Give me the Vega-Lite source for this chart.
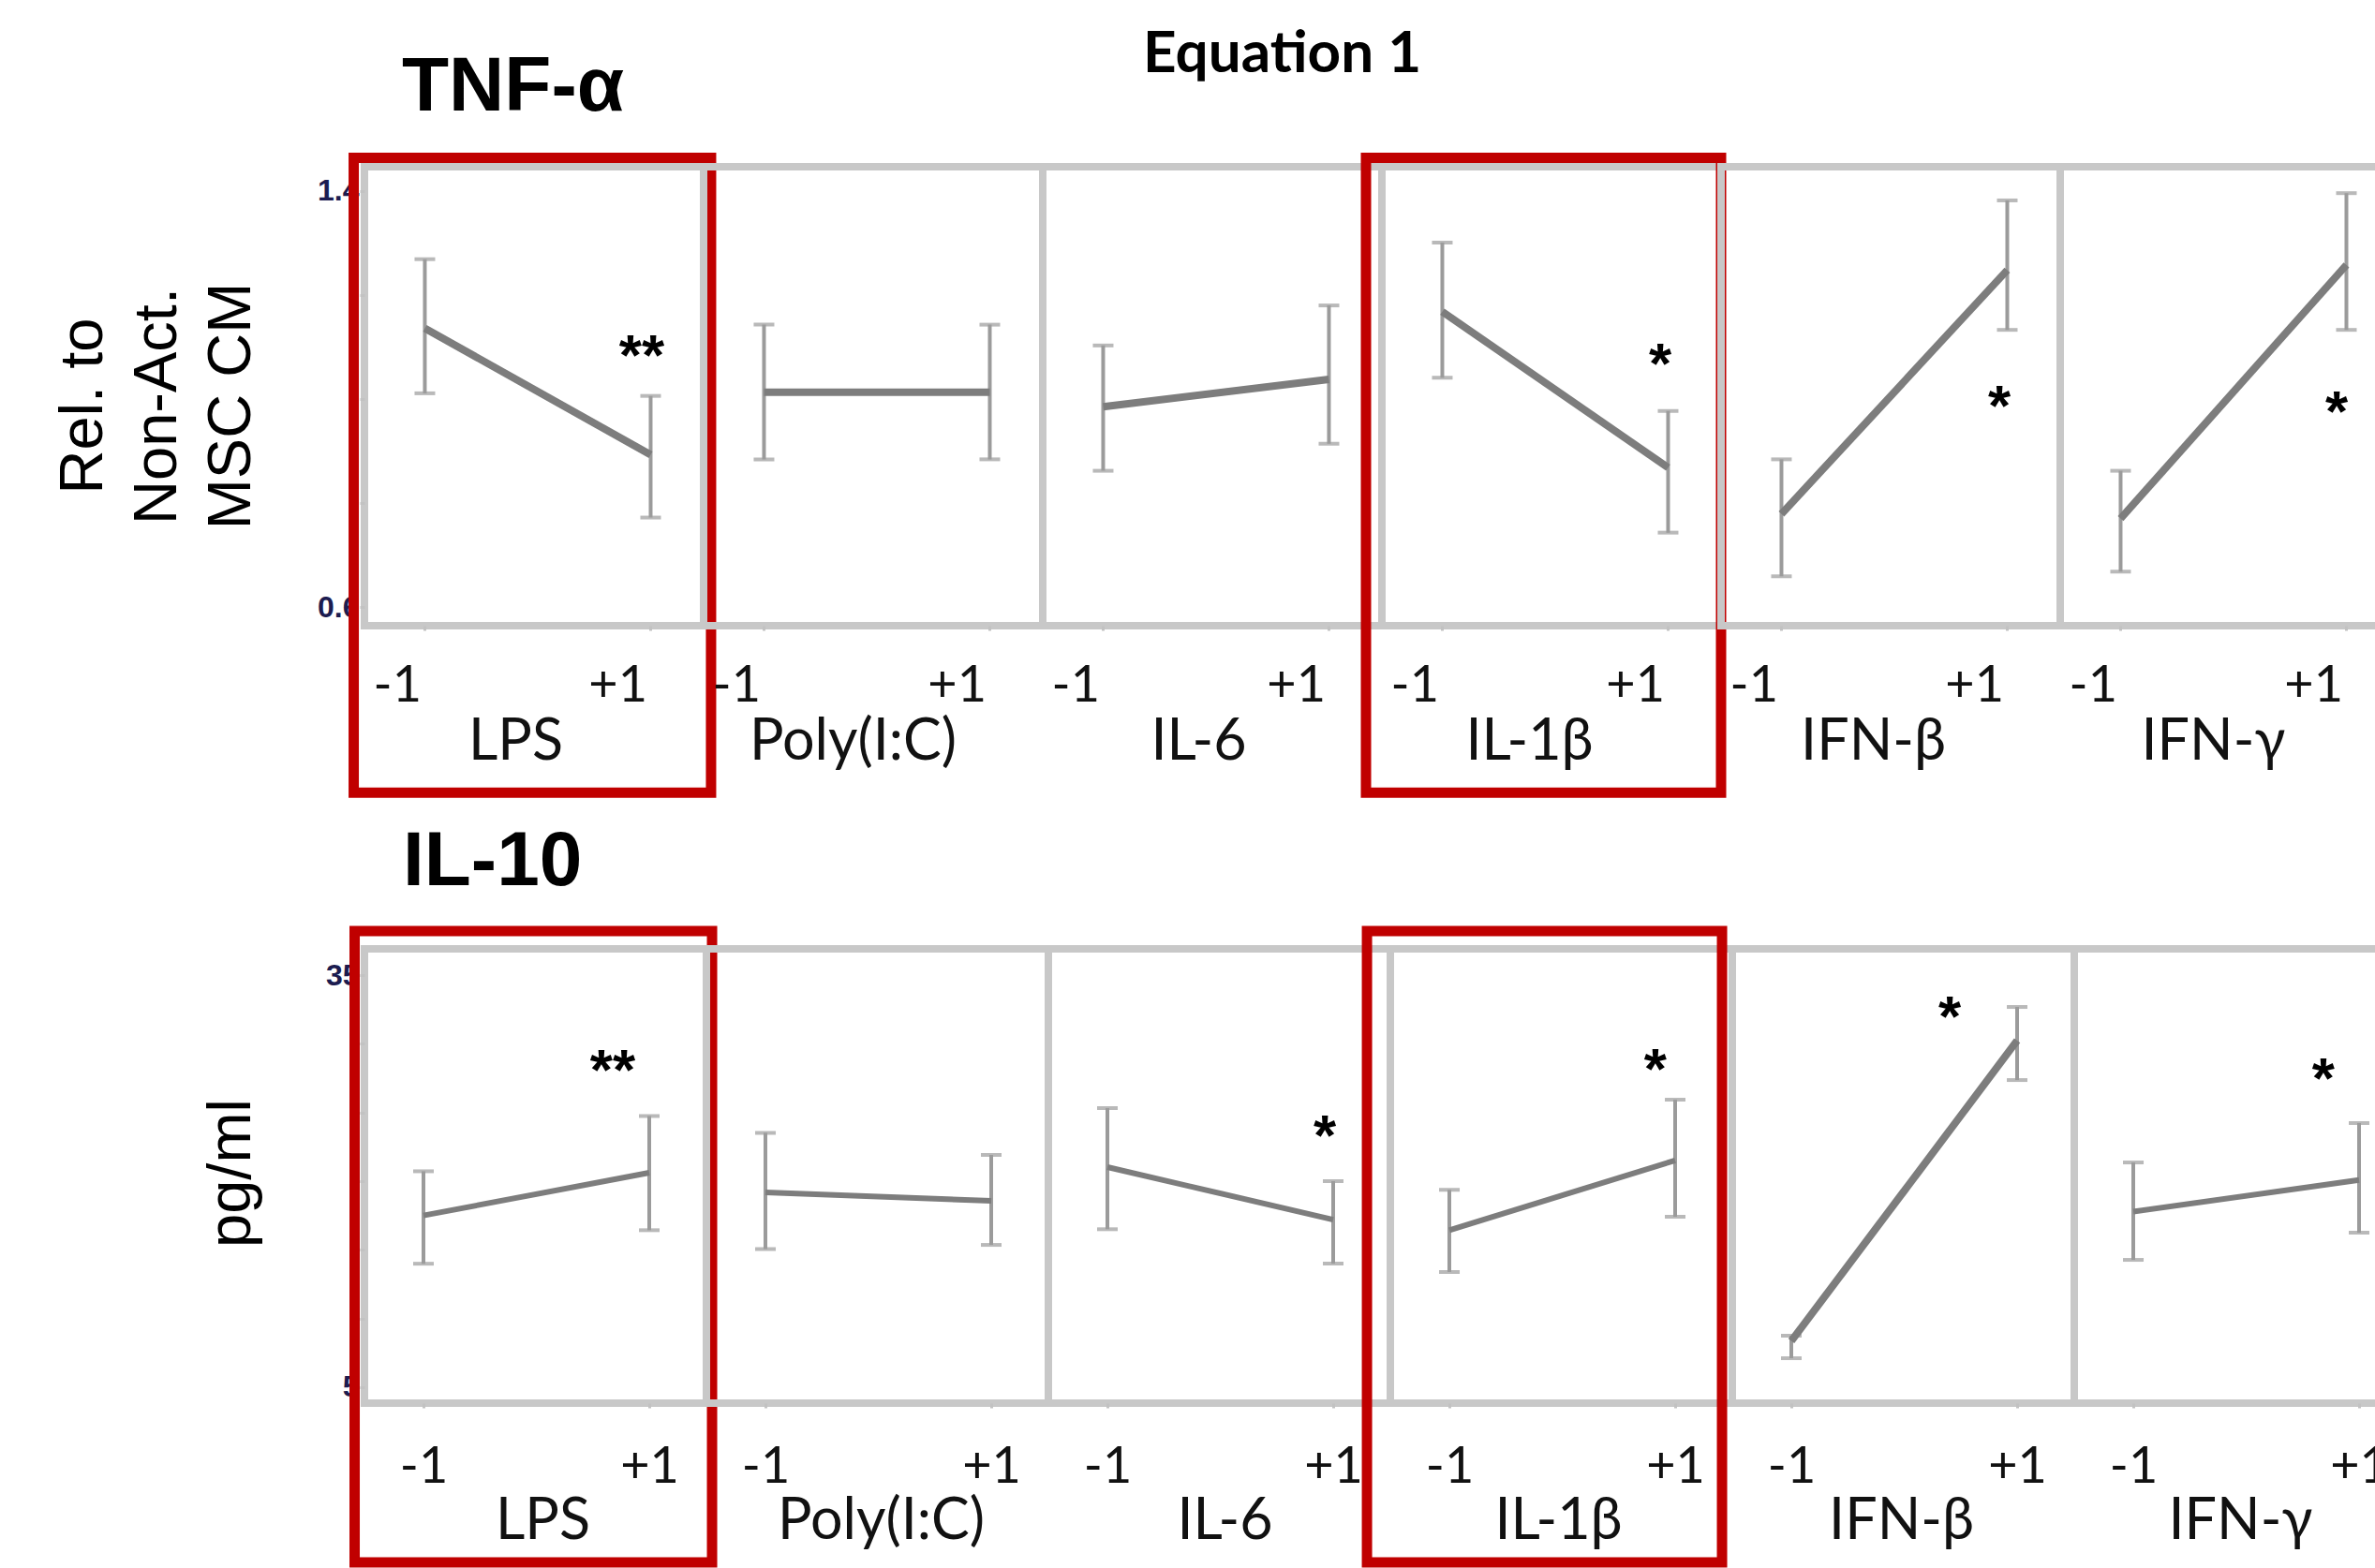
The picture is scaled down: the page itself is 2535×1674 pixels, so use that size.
{
"$schema": "https://vega.github.io/schema/vega-lite/v6.json",
"background": "white",
"padding": {"left": 52, "top": 26, "right": 0, "bottom": 0},
"title": {"text": "Equation 1", "anchor": "start", "frame": "group", "dx": 831, "offset": -42, "baseline": "top", "font": "Lato", "fontSize": 62, "fontWeight": "bold", "color": "black"},
"datasets": {
"tnf": [
{"factor":"LPS","level":-1,"mean":1.136,"lo":1.011,"hi":1.269},
{"factor":"LPS","level":1,"mean":0.893,"lo":0.772,"hi":1.006},
{"factor":"Poly(I:C)","level":-1,"mean":1.013,"lo":0.884,"hi":1.143},
{"factor":"Poly(I:C)","level":1,"mean":1.013,"lo":0.884,"hi":1.143},
{"factor":"IL-6","level":-1,"mean":0.985,"lo":0.862,"hi":1.103},
{"factor":"IL-6","level":1,"mean":1.038,"lo":0.914,"hi":1.180},
{"factor":"IL-1β","level":-1,"mean":1.168,"lo":1.041,"hi":1.301},
{"factor":"IL-1β","level":1,"mean":0.868,"lo":0.743,"hi":0.977},
{"factor":"IFN-β","level":-1,"mean":0.779,"lo":0.659,"hi":0.884},
{"factor":"IFN-β","level":1,"mean":1.248,"lo":1.133,"hi":1.382},
{"factor":"IFN-γ","level":-1,"mean":0.770,"lo":0.668,"hi":0.862},
{"factor":"IFN-γ","level":1,"mean":1.258,"lo":1.133,"hi":1.396}
],
"il10": [
{"factor":"LPS","level":-1,"mean":17.50,"lo":13.99,"hi":20.72},
{"factor":"LPS","level":1,"mean":20.61,"lo":16.43,"hi":24.74},
{"factor":"Poly(I:C)","level":-1,"mean":19.18,"lo":15.06,"hi":23.52},
{"factor":"Poly(I:C)","level":1,"mean":18.57,"lo":15.36,"hi":21.91},
{"factor":"IL-6","level":-1,"mean":21.02,"lo":16.50,"hi":25.32},
{"factor":"IL-6","level":1,"mean":17.20,"lo":14.00,"hi":20.00},
{"factor":"IL-1β","level":-1,"mean":16.43,"lo":13.39,"hi":19.37},
{"factor":"IL-1β","level":1,"mean":21.51,"lo":17.41,"hi":25.93},
{"factor":"IFN-β","level":-1,"mean":8.36,"lo":7.11,"hi":8.75},
{"factor":"IFN-β","level":1,"mean":30.23,"lo":27.36,"hi":32.68},
{"factor":"IFN-γ","level":-1,"mean":17.78,"lo":14.27,"hi":21.36},
{"factor":"IFN-γ","level":1,"mean":20.08,"lo":16.25,"hi":24.23}
],
"tnf_sig": [
{"factor":"LPS","label":"**","sx":0.921,"sy":1.110},
{"factor":"IL-1β","label":"*","sx":0.930,"sy":1.094},
{"factor":"IFN-β","label":"*","sx":0.930,"sy":1.012},
{"factor":"IFN-γ","label":"*","sx":0.913,"sy":1.002}
],
"il10_sig": [
{"factor":"LPS","label":"**","sx":0.676,"sy":29.07},
{"factor":"IL-6","label":"*","sx":0.925,"sy":24.31},
{"factor":"IL-1β","label":"*","sx":0.823,"sy":29.16},
{"factor":"IFN-β","label":"*","sx":0.402,"sy":32.95},
{"factor":"IFN-γ","label":"*","sx":0.683,"sy":28.43}
],
"boxes": [{"factor":"LPS"},{"factor":"IL-1β"}]
},
"config": {
"view": {"stroke": "#c8c8c8", "strokeWidth": 8},
"axisX": {"domain": false, "grid": false, "tickSize": 5, "tickColor": "#c2c2c2", "tickWidth": 3, "labelFont": "Lato", "labelFontSize": 54, "labelColor": "#111111", "labelFlush": false, "labelOverlap": false, "labelBaseline": "alphabetic", "titleFont": "Lato", "titleFontSize": 61, "titleFontWeight": "normal", "titleColor": "#111111", "titleAlign": "center", "titleBaseline": "alphabetic"},
"axisY": {"domain": false, "grid": false, "tickSize": 5, "tickColor": "#c2c2c2", "tickWidth": 3, "labelFont": "Liberation Sans", "labelFontSize": 32, "labelFontWeight": "bold", "labelColor": "#1c1c50", "labelPadding": 1, "labelOverlap": false, "titleFont": "Liberation Sans", "titleFontSize": 65, "titleFontWeight": "normal", "titleColor": "black", "titleAngle": -90, "titleAlign": "center", "titleBaseline": "alphabetic", "titleLineHeight": 79}
},
"spacing": 18,
"vconcat": [
{"bounds": "flush", "spacing": 0, "hconcat": [
{"width": 362, "height": 490,
"title": {"text": "TNF-α", "anchor": "start", "frame": "group", "dx": 40, "offset": 28, "baseline": "top", "font": "Liberation Sans", "fontSize": 82, "fontWeight": "bold", "color": "black"},
"resolve": {"axis": {"x": "independent", "y": "independent"}},
"layer": [
{"data": {"name": "tnf"}, "transform": [{"filter": "datum.factor === 'LPS'"}], "mark": {"type": "errorbar", "ticks": {"size": 22}, "thickness": 4, "color": "#9b9b9b"}, "encoding": {"x": {"field": "level", "type": "quantitative", "scale": {"domain": [-1.535, 1.469], "nice": false, "zero": false}, "axis": null}, "y": {"field": "lo", "type": "quantitative", "scale": {"domain": [0.564, 1.4468], "nice": false, "zero": false}, "axis": null}, "y2": {"field": "hi"}}},
{"data": {"name": "tnf"}, "transform": [{"filter": "datum.factor === 'LPS'"}], "mark": {"type": "line", "color": "#7d7d7d", "strokeWidth": 8}, "encoding": {"x": {"field": "level", "type": "quantitative", "scale": {"domain": [-1.535, 1.469], "nice": false, "zero": false}, "axis": {"values": [-1, 1], "labelExpr": "datum.value > 0 ? '+1' : '-1'", "labelAlign": "right", "labelOffset": -4, "labelPadding": 75, "title": "LPS", "titleX": 161, "titleY": 142}}, "y": {"field": "mean", "type": "quantitative", "scale": {"domain": [0.564, 1.4468], "nice": false, "zero": false}, "axis": {"values": [0.6, 0.8, 1.0, 1.2, 1.4], "format": ".1f", "labelExpr": "datum.value == 0.6 || datum.value == 1.4 ? datum.label : ''", "title": ["Rel. to", "Non-Act.", "MSC CM"], "titleX": -281, "titleY": 255}}}},
{"data": {"name": "tnf_sig"}, "transform": [{"filter": "datum.factor === 'LPS'"}], "mark": {"type": "text", "font": "Liberation Sans", "fontSize": 62, "fontWeight": "bold", "color": "black", "baseline": "middle", "align": "center", "dy": 16}, "encoding": {"x": {"field": "sx", "type": "quantitative", "scale": {"domain": [-1.535, 1.469], "nice": false, "zero": false}, "axis": null}, "y": {"field": "sy", "type": "quantitative", "scale": {"domain": [0.564, 1.4468], "nice": false, "zero": false}, "axis": null}, "text": {"field": "label"}}},
{"data": {"name": "boxes"}, "transform": [{"filter": "datum.factor === 'LPS'"}], "mark": {"type": "rect", "filled": false, "fill": "transparent", "stroke": "#c00000", "strokeWidth": 11, "clip": false}, "encoding": {"x": {"datum": -1.63, "type": "quantitative", "scale": {"domain": [-1.535, 1.469], "nice": false, "zero": false}, "axis": null}, "x2": {"datum": 1.535}, "y": {"datum": 1.464, "type": "quantitative", "scale": {"domain": [0.564, 1.4468], "nice": false, "zero": false}, "axis": null}, "y2": {"datum": 0.243}}}
]},
{"width": 362, "height": 490,
"resolve": {"axis": {"x": "independent", "y": "independent"}},
"layer": [
{"data": {"name": "tnf"}, "transform": [{"filter": "datum.factor === 'Poly(I:C)'"}], "mark": {"type": "errorbar", "ticks": {"size": 22}, "thickness": 4, "color": "#9b9b9b"}, "encoding": {"x": {"field": "level", "type": "quantitative", "scale": {"domain": [-1.535, 1.469], "nice": false, "zero": false}, "axis": null}, "y": {"field": "lo", "type": "quantitative", "scale": {"domain": [0.564, 1.4468], "nice": false, "zero": false}, "axis": null}, "y2": {"field": "hi"}}},
{"data": {"name": "tnf"}, "transform": [{"filter": "datum.factor === 'Poly(I:C)'"}], "mark": {"type": "line", "color": "#7d7d7d", "strokeWidth": 8}, "encoding": {"x": {"field": "level", "type": "quantitative", "scale": {"domain": [-1.535, 1.469], "nice": false, "zero": false}, "axis": {"values": [-1, 1], "labelExpr": "datum.value > 0 ? '+1' : '-1'", "labelAlign": "right", "labelOffset": -4, "labelPadding": 75, "title": "Poly(I:C)", "titleX": 159, "titleY": 142}}, "y": {"field": "mean", "type": "quantitative", "scale": {"domain": [0.564, 1.4468], "nice": false, "zero": false}, "axis": null}}}
]},
{"width": 362, "height": 490,
"resolve": {"axis": {"x": "independent", "y": "independent"}},
"layer": [
{"data": {"name": "tnf"}, "transform": [{"filter": "datum.factor === 'IL-6'"}], "mark": {"type": "errorbar", "ticks": {"size": 22}, "thickness": 4, "color": "#9b9b9b"}, "encoding": {"x": {"field": "level", "type": "quantitative", "scale": {"domain": [-1.535, 1.469], "nice": false, "zero": false}, "axis": null}, "y": {"field": "lo", "type": "quantitative", "scale": {"domain": [0.564, 1.4468], "nice": false, "zero": false}, "axis": null}, "y2": {"field": "hi"}}},
{"data": {"name": "tnf"}, "transform": [{"filter": "datum.factor === 'IL-6'"}], "mark": {"type": "line", "color": "#7d7d7d", "strokeWidth": 8}, "encoding": {"x": {"field": "level", "type": "quantitative", "scale": {"domain": [-1.535, 1.469], "nice": false, "zero": false}, "axis": {"values": [-1, 1], "labelExpr": "datum.value > 0 ? '+1' : '-1'", "labelAlign": "right", "labelOffset": -4, "labelPadding": 75, "title": "IL-6", "titleX": 166, "titleY": 142}}, "y": {"field": "mean", "type": "quantitative", "scale": {"domain": [0.564, 1.4468], "nice": false, "zero": false}, "axis": null}}}
]},
{"width": 362, "height": 490,
"resolve": {"axis": {"x": "independent", "y": "independent"}},
"layer": [
{"data": {"name": "tnf"}, "transform": [{"filter": "datum.factor === 'IL-1β'"}], "mark": {"type": "errorbar", "ticks": {"size": 22}, "thickness": 4, "color": "#9b9b9b"}, "encoding": {"x": {"field": "level", "type": "quantitative", "scale": {"domain": [-1.535, 1.469], "nice": false, "zero": false}, "axis": null}, "y": {"field": "lo", "type": "quantitative", "scale": {"domain": [0.564, 1.4468], "nice": false, "zero": false}, "axis": null}, "y2": {"field": "hi"}}},
{"data": {"name": "tnf"}, "transform": [{"filter": "datum.factor === 'IL-1β'"}], "mark": {"type": "line", "color": "#7d7d7d", "strokeWidth": 8}, "encoding": {"x": {"field": "level", "type": "quantitative", "scale": {"domain": [-1.535, 1.469], "nice": false, "zero": false}, "axis": {"values": [-1, 1], "labelExpr": "datum.value > 0 ? '+1' : '-1'", "labelAlign": "right", "labelOffset": -4, "labelPadding": 75, "title": "IL-1β", "titleX": 157, "titleY": 142}}, "y": {"field": "mean", "type": "quantitative", "scale": {"domain": [0.564, 1.4468], "nice": false, "zero": false}, "axis": null}}},
{"data": {"name": "tnf_sig"}, "transform": [{"filter": "datum.factor === 'IL-1β'"}], "mark": {"type": "text", "font": "Liberation Sans", "fontSize": 62, "fontWeight": "bold", "color": "black", "baseline": "middle", "align": "center", "dy": 16}, "encoding": {"x": {"field": "sx", "type": "quantitative", "scale": {"domain": [-1.535, 1.469], "nice": false, "zero": false}, "axis": null}, "y": {"field": "sy", "type": "quantitative", "scale": {"domain": [0.564, 1.4468], "nice": false, "zero": false}, "axis": null}, "text": {"field": "label"}}},
{"data": {"name": "boxes"}, "transform": [{"filter": "datum.factor === 'IL-1β'"}], "mark": {"type": "rect", "filled": false, "fill": "transparent", "stroke": "#c00000", "strokeWidth": 11, "clip": false}, "encoding": {"x": {"datum": -1.676, "type": "quantitative", "scale": {"domain": [-1.535, 1.469], "nice": false, "zero": false}, "axis": null}, "x2": {"datum": 1.469}, "y": {"datum": 1.464, "type": "quantitative", "scale": {"domain": [0.564, 1.4468], "nice": false, "zero": false}, "axis": null}, "y2": {"datum": 0.243}}}
]},
{"width": 362, "height": 490,
"resolve": {"axis": {"x": "independent", "y": "independent"}},
"layer": [
{"data": {"name": "tnf"}, "transform": [{"filter": "datum.factor === 'IFN-β'"}], "mark": {"type": "errorbar", "ticks": {"size": 22}, "thickness": 4, "color": "#9b9b9b"}, "encoding": {"x": {"field": "level", "type": "quantitative", "scale": {"domain": [-1.535, 1.469], "nice": false, "zero": false}, "axis": null}, "y": {"field": "lo", "type": "quantitative", "scale": {"domain": [0.564, 1.4468], "nice": false, "zero": false}, "axis": null}, "y2": {"field": "hi"}}},
{"data": {"name": "tnf"}, "transform": [{"filter": "datum.factor === 'IFN-β'"}], "mark": {"type": "line", "color": "#7d7d7d", "strokeWidth": 8}, "encoding": {"x": {"field": "level", "type": "quantitative", "scale": {"domain": [-1.535, 1.469], "nice": false, "zero": false}, "axis": {"values": [-1, 1], "labelExpr": "datum.value > 0 ? '+1' : '-1'", "labelAlign": "right", "labelOffset": -4, "labelPadding": 75, "title": "IFN-β", "titleX": 162, "titleY": 142}}, "y": {"field": "mean", "type": "quantitative", "scale": {"domain": [0.564, 1.4468], "nice": false, "zero": false}, "axis": null}}},
{"data": {"name": "tnf_sig"}, "transform": [{"filter": "datum.factor === 'IFN-β'"}], "mark": {"type": "text", "font": "Liberation Sans", "fontSize": 62, "fontWeight": "bold", "color": "black", "baseline": "middle", "align": "center", "dy": 16}, "encoding": {"x": {"field": "sx", "type": "quantitative", "scale": {"domain": [-1.535, 1.469], "nice": false, "zero": false}, "axis": null}, "y": {"field": "sy", "type": "quantitative", "scale": {"domain": [0.564, 1.4468], "nice": false, "zero": false}, "axis": null}, "text": {"field": "label"}}}
]},
{"width": 362, "height": 490,
"resolve": {"axis": {"x": "independent", "y": "independent"}},
"layer": [
{"data": {"name": "tnf"}, "transform": [{"filter": "datum.factor === 'IFN-γ'"}], "mark": {"type": "errorbar", "ticks": {"size": 22}, "thickness": 4, "color": "#9b9b9b"}, "encoding": {"x": {"field": "level", "type": "quantitative", "scale": {"domain": [-1.535, 1.469], "nice": false, "zero": false}, "axis": null}, "y": {"field": "lo", "type": "quantitative", "scale": {"domain": [0.564, 1.4468], "nice": false, "zero": false}, "axis": null}, "y2": {"field": "hi"}}},
{"data": {"name": "tnf"}, "transform": [{"filter": "datum.factor === 'IFN-γ'"}], "mark": {"type": "line", "color": "#7d7d7d", "strokeWidth": 8}, "encoding": {"x": {"field": "level", "type": "quantitative", "scale": {"domain": [-1.535, 1.469], "nice": false, "zero": false}, "axis": {"values": [-1, 1], "labelExpr": "datum.value > 0 ? '+1' : '-1'", "labelAlign": "right", "labelOffset": -4, "labelPadding": 75, "title": "IFN-γ", "titleX": 163, "titleY": 142}}, "y": {"field": "mean", "type": "quantitative", "scale": {"domain": [0.564, 1.4468], "nice": false, "zero": false}, "axis": null}}},
{"data": {"name": "tnf_sig"}, "transform": [{"filter": "datum.factor === 'IFN-γ'"}], "mark": {"type": "text", "font": "Liberation Sans", "fontSize": 62, "fontWeight": "bold", "color": "black", "baseline": "middle", "align": "center", "dy": 16}, "encoding": {"x": {"field": "sx", "type": "quantitative", "scale": {"domain": [-1.535, 1.469], "nice": false, "zero": false}, "axis": null}, "y": {"field": "sy", "type": "quantitative", "scale": {"domain": [0.564, 1.4468], "nice": false, "zero": false}, "axis": null}, "text": {"field": "label"}}}
]}
]},
{"bounds": "flush", "spacing": 0, "hconcat": [
{"width": 365, "height": 485,
"title": {"text": "IL-10", "anchor": "start", "frame": "group", "dx": 41, "offset": 27, "baseline": "top", "font": "Liberation Sans", "fontSize": 82, "fontWeight": "bold", "color": "black"},
"resolve": {"axis": {"x": "independent", "y": "independent"}},
"layer": [
{"data": {"name": "il10"}, "transform": [{"filter": "datum.factor === 'LPS'"}], "mark": {"type": "errorbar", "ticks": {"size": 22}, "thickness": 4, "color": "#9b9b9b"}, "encoding": {"x": {"field": "level", "type": "quantitative", "scale": {"domain": [-1.523, 1.506], "nice": false, "zero": false}, "axis": null}, "y": {"field": "lo", "type": "quantitative", "scale": {"domain": [3.84, 36.91], "nice": false, "zero": false}, "axis": null}, "y2": {"field": "hi"}}},
{"data": {"name": "il10"}, "transform": [{"filter": "datum.factor === 'LPS'"}], "mark": {"type": "line", "color": "#7d7d7d", "strokeWidth": 6}, "encoding": {"x": {"field": "level", "type": "quantitative", "scale": {"domain": [-1.523, 1.506], "nice": false, "zero": false}, "axis": {"values": [-1, 1], "labelExpr": "datum.value > 0 ? '+1' : '-1'", "labelAlign": "center", "labelPadding": 79, "title": "LPS", "titleX": 190, "titleY": 144}}, "y": {"field": "mean", "type": "quantitative", "scale": {"domain": [3.84, 36.91], "nice": false, "zero": false}, "axis": {"values": [5, 10, 15, 20, 25, 30, 35], "format": "d", "labelExpr": "datum.value == 5 || datum.value == 35 ? datum.label : ''", "title": "pg/ml", "titleX": -123, "titleY": 239}}}},
{"data": {"name": "il10_sig"}, "transform": [{"filter": "datum.factor === 'LPS'"}], "mark": {"type": "text", "font": "Liberation Sans", "fontSize": 62, "fontWeight": "bold", "color": "black", "baseline": "middle", "align": "center", "dy": 16}, "encoding": {"x": {"field": "sx", "type": "quantitative", "scale": {"domain": [-1.523, 1.506], "nice": false, "zero": false}, "axis": null}, "y": {"field": "sy", "type": "quantitative", "scale": {"domain": [3.84, 36.91], "nice": false, "zero": false}, "axis": null}, "text": {"field": "label"}}},
{"data": {"name": "boxes"}, "transform": [{"filter": "datum.factor === 'LPS'"}], "mark": {"type": "rect", "filled": false, "fill": "transparent", "stroke": "#c00000", "strokeWidth": 11, "clip": false}, "encoding": {"x": {"datum": -1.61, "type": "quantitative", "scale": {"domain": [-1.523, 1.506], "nice": false, "zero": false}, "axis": null}, "x2": {"datum": 1.556}, "y": {"datum": 38.2, "type": "quantitative", "scale": {"domain": [3.84, 36.91], "nice": false, "zero": false}, "axis": null}, "y2": {"datum": -7.75}}}
]},
{"width": 365, "height": 485,
"resolve": {"axis": {"x": "independent", "y": "independent"}},
"layer": [
{"data": {"name": "il10"}, "transform": [{"filter": "datum.factor === 'Poly(I:C)'"}], "mark": {"type": "errorbar", "ticks": {"size": 22}, "thickness": 4, "color": "#9b9b9b"}, "encoding": {"x": {"field": "level", "type": "quantitative", "scale": {"domain": [-1.523, 1.506], "nice": false, "zero": false}, "axis": null}, "y": {"field": "lo", "type": "quantitative", "scale": {"domain": [3.84, 36.91], "nice": false, "zero": false}, "axis": null}, "y2": {"field": "hi"}}},
{"data": {"name": "il10"}, "transform": [{"filter": "datum.factor === 'Poly(I:C)'"}], "mark": {"type": "line", "color": "#7d7d7d", "strokeWidth": 6}, "encoding": {"x": {"field": "level", "type": "quantitative", "scale": {"domain": [-1.523, 1.506], "nice": false, "zero": false}, "axis": {"values": [-1, 1], "labelExpr": "datum.value > 0 ? '+1' : '-1'", "labelAlign": "center", "labelPadding": 79, "title": "Poly(I:C)", "titleX": 186, "titleY": 144}}, "y": {"field": "mean", "type": "quantitative", "scale": {"domain": [3.84, 36.91], "nice": false, "zero": false}, "axis": null}}}
]},
{"width": 365, "height": 485,
"resolve": {"axis": {"x": "independent", "y": "independent"}},
"layer": [
{"data": {"name": "il10"}, "transform": [{"filter": "datum.factor === 'IL-6'"}], "mark": {"type": "errorbar", "ticks": {"size": 22}, "thickness": 4, "color": "#9b9b9b"}, "encoding": {"x": {"field": "level", "type": "quantitative", "scale": {"domain": [-1.523, 1.506], "nice": false, "zero": false}, "axis": null}, "y": {"field": "lo", "type": "quantitative", "scale": {"domain": [3.84, 36.91], "nice": false, "zero": false}, "axis": null}, "y2": {"field": "hi"}}},
{"data": {"name": "il10"}, "transform": [{"filter": "datum.factor === 'IL-6'"}], "mark": {"type": "line", "color": "#7d7d7d", "strokeWidth": 6}, "encoding": {"x": {"field": "level", "type": "quantitative", "scale": {"domain": [-1.523, 1.506], "nice": false, "zero": false}, "axis": {"values": [-1, 1], "labelExpr": "datum.value > 0 ? '+1' : '-1'", "labelAlign": "center", "labelPadding": 79, "title": "IL-6", "titleX": 188, "titleY": 144}}, "y": {"field": "mean", "type": "quantitative", "scale": {"domain": [3.84, 36.91], "nice": false, "zero": false}, "axis": null}}},
{"data": {"name": "il10_sig"}, "transform": [{"filter": "datum.factor === 'IL-6'"}], "mark": {"type": "text", "font": "Liberation Sans", "fontSize": 62, "fontWeight": "bold", "color": "black", "baseline": "middle", "align": "center", "dy": 16}, "encoding": {"x": {"field": "sx", "type": "quantitative", "scale": {"domain": [-1.523, 1.506], "nice": false, "zero": false}, "axis": null}, "y": {"field": "sy", "type": "quantitative", "scale": {"domain": [3.84, 36.91], "nice": false, "zero": false}, "axis": null}, "text": {"field": "label"}}}
]},
{"width": 365, "height": 485,
"resolve": {"axis": {"x": "independent", "y": "independent"}},
"layer": [
{"data": {"name": "il10"}, "transform": [{"filter": "datum.factor === 'IL-1β'"}], "mark": {"type": "errorbar", "ticks": {"size": 22}, "thickness": 4, "color": "#9b9b9b"}, "encoding": {"x": {"field": "level", "type": "quantitative", "scale": {"domain": [-1.523, 1.506], "nice": false, "zero": false}, "axis": null}, "y": {"field": "lo", "type": "quantitative", "scale": {"domain": [3.84, 36.91], "nice": false, "zero": false}, "axis": null}, "y2": {"field": "hi"}}},
{"data": {"name": "il10"}, "transform": [{"filter": "datum.factor === 'IL-1β'"}], "mark": {"type": "line", "color": "#7d7d7d", "strokeWidth": 6}, "encoding": {"x": {"field": "level", "type": "quantitative", "scale": {"domain": [-1.523, 1.506], "nice": false, "zero": false}, "axis": {"values": [-1, 1], "labelExpr": "datum.value > 0 ? '+1' : '-1'", "labelAlign": "center", "labelPadding": 79, "title": "IL-1β", "titleX": 179, "titleY": 144}}, "y": {"field": "mean", "type": "quantitative", "scale": {"domain": [3.84, 36.91], "nice": false, "zero": false}, "axis": null}}},
{"data": {"name": "il10_sig"}, "transform": [{"filter": "datum.factor === 'IL-1β'"}], "mark": {"type": "text", "font": "Liberation Sans", "fontSize": 62, "fontWeight": "bold", "color": "black", "baseline": "middle", "align": "center", "dy": 16}, "encoding": {"x": {"field": "sx", "type": "quantitative", "scale": {"domain": [-1.523, 1.506], "nice": false, "zero": false}, "axis": null}, "y": {"field": "sy", "type": "quantitative", "scale": {"domain": [3.84, 36.91], "nice": false, "zero": false}, "axis": null}, "text": {"field": "label"}}},
{"data": {"name": "boxes"}, "transform": [{"filter": "datum.factor === 'IL-1β'"}], "mark": {"type": "rect", "filled": false, "fill": "transparent", "stroke": "#c00000", "strokeWidth": 11, "clip": false}, "encoding": {"x": {"datum": -1.73, "type": "quantitative", "scale": {"domain": [-1.523, 1.506], "nice": false, "zero": false}, "axis": null}, "x2": {"datum": 1.415}, "y": {"datum": 38.2, "type": "quantitative", "scale": {"domain": [3.84, 36.91], "nice": false, "zero": false}, "axis": null}, "y2": {"datum": -7.75}}}
]},
{"width": 365, "height": 485,
"resolve": {"axis": {"x": "independent", "y": "independent"}},
"layer": [
{"data": {"name": "il10"}, "transform": [{"filter": "datum.factor === 'IFN-β'"}], "mark": {"type": "errorbar", "ticks": {"size": 22}, "thickness": 4, "color": "#9b9b9b"}, "encoding": {"x": {"field": "level", "type": "quantitative", "scale": {"domain": [-1.523, 1.506], "nice": false, "zero": false}, "axis": null}, "y": {"field": "lo", "type": "quantitative", "scale": {"domain": [3.84, 36.91], "nice": false, "zero": false}, "axis": null}, "y2": {"field": "hi"}}},
{"data": {"name": "il10"}, "transform": [{"filter": "datum.factor === 'IFN-β'"}], "mark": {"type": "line", "color": "#7d7d7d", "strokeWidth": 8}, "encoding": {"x": {"field": "level", "type": "quantitative", "scale": {"domain": [-1.523, 1.506], "nice": false, "zero": false}, "axis": {"values": [-1, 1], "labelExpr": "datum.value > 0 ? '+1' : '-1'", "labelAlign": "center", "labelPadding": 79, "title": "IFN-β", "titleX": 180, "titleY": 144}}, "y": {"field": "mean", "type": "quantitative", "scale": {"domain": [3.84, 36.91], "nice": false, "zero": false}, "axis": null}}},
{"data": {"name": "il10_sig"}, "transform": [{"filter": "datum.factor === 'IFN-β'"}], "mark": {"type": "text", "font": "Liberation Sans", "fontSize": 62, "fontWeight": "bold", "color": "black", "baseline": "middle", "align": "center", "dy": 16}, "encoding": {"x": {"field": "sx", "type": "quantitative", "scale": {"domain": [-1.523, 1.506], "nice": false, "zero": false}, "axis": null}, "y": {"field": "sy", "type": "quantitative", "scale": {"domain": [3.84, 36.91], "nice": false, "zero": false}, "axis": null}, "text": {"field": "label"}}}
]},
{"width": 365, "height": 485,
"resolve": {"axis": {"x": "independent", "y": "independent"}},
"layer": [
{"data": {"name": "il10"}, "transform": [{"filter": "datum.factor === 'IFN-γ'"}], "mark": {"type": "errorbar", "ticks": {"size": 22}, "thickness": 4, "color": "#9b9b9b"}, "encoding": {"x": {"field": "level", "type": "quantitative", "scale": {"domain": [-1.523, 1.506], "nice": false, "zero": false}, "axis": null}, "y": {"field": "lo", "type": "quantitative", "scale": {"domain": [3.84, 36.91], "nice": false, "zero": false}, "axis": null}, "y2": {"field": "hi"}}},
{"data": {"name": "il10"}, "transform": [{"filter": "datum.factor === 'IFN-γ'"}], "mark": {"type": "line", "color": "#7d7d7d", "strokeWidth": 6}, "encoding": {"x": {"field": "level", "type": "quantitative", "scale": {"domain": [-1.523, 1.506], "nice": false, "zero": false}, "axis": {"values": [-1, 1], "labelExpr": "datum.value > 0 ? '+1' : '-1'", "labelAlign": "center", "labelPadding": 79, "title": "IFN-γ", "titleX": 177, "titleY": 144}}, "y": {"field": "mean", "type": "quantitative", "scale": {"domain": [3.84, 36.91], "nice": false, "zero": false}, "axis": null}}},
{"data": {"name": "il10_sig"}, "transform": [{"filter": "datum.factor === 'IFN-γ'"}], "mark": {"type": "text", "font": "Liberation Sans", "fontSize": 62, "fontWeight": "bold", "color": "black", "baseline": "middle", "align": "center", "dy": 16}, "encoding": {"x": {"field": "sx", "type": "quantitative", "scale": {"domain": [-1.523, 1.506], "nice": false, "zero": false}, "axis": null}, "y": {"field": "sy", "type": "quantitative", "scale": {"domain": [3.84, 36.91], "nice": false, "zero": false}, "axis": null}, "text": {"field": "label"}}}
]}
]}
]
}
